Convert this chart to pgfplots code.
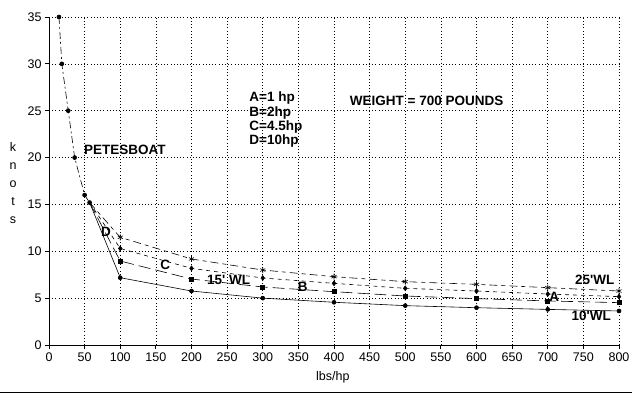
\documentclass[border=0pt]{standalone}
\usepackage{fontspec}
\setmainfont{Liberation Sans}
\usepackage{pgfplots}
\pgfplotsset{compat=1.18}
\begin{document}
\begin{tikzpicture}
\path[use as bounding box] (-49pt,-49pt) rectangle (583pt,345pt);
\begin{axis}[
 at={(0,0)}, anchor=south west,
 scale only axis, width=570pt, height=328pt,
 xmin=0, xmax=800, ymin=0, ymax=35,
 axis lines=left, axis line style={-, line width=0.8pt},
 xtick={0,50,...,800}, ytick={0,5,...,35},
 tick align=outside, major tick length=4pt,
 tick style={black, line width=0.8pt},
 grid=major, grid style={black, line width=0.7pt, dash pattern=on 0.8pt off 2.4pt},
 tick label style={font=\fontsize{12.5}{14}\selectfont},
 /pgf/number format/assume math mode=true,
 clip=false,
 every axis plot/.append style={black, line width=0.6pt},
]
\addplot[dash pattern=on 7pt off 3pt on 2pt off 3pt, mark=*, mark size=2pt, mark options={solid}] coordinates {
 (14,35) (18,30) (27,25) (36,20) (50,16) (57,15.2)};
\addplot[solid, mark=*, mark size=2pt, mark indices={2,3,4,5,6,7,8,9}] coordinates {
 (57,15.2) (100,7.18) (200,5.76) (300,5.0) (400,4.56) (500,4.2) (600,3.98) (700,3.8) (800,3.63)};
\addplot[dash pattern=on 12pt off 5pt, mark=square*, mark size=2pt, mark options={solid}, mark indices={2,3,4,5,6,7,8,9}] coordinates {
 (57,15.2) (100,8.96) (200,7.04) (300,6.19) (400,5.69) (500,5.23) (600,4.95) (700,4.7) (800,4.52)};
\addplot[dash pattern=on 4pt off 4pt, mark=diamond*, mark size=2.4pt, mark options={solid}, mark indices={2,3,4,5,6,7,8,9}] coordinates {
 (57,15.2) (100,10.3) (200,8.18) (300,7.15) (400,6.58) (500,6.05) (600,5.76) (700,5.44) (800,5.16)};
\addplot[dash pattern=on 8pt off 4pt on 4pt off 4pt, mark=asterisk, mark size=3pt, mark options={solid}, mark indices={2,3,4,5,6,7,8,9}] coordinates {
 (57,15.2) (100,11.49) (200,9.18) (300,8.0) (400,7.29) (500,6.76) (600,6.47) (700,6.12) (800,5.76)};
\begin{scope}[every node/.style={font=\bfseries\fontsize{13.5}{15}\selectfont, inner sep=0pt}]
\node[anchor=west] at (axis cs:49,20.8) {PETESBOAT};
\node[anchor=west] at (axis cs:281,26.4) {A=1 hp};
\node[anchor=west] at (axis cs:281,24.8) {B=2hp};
\node[anchor=west] at (axis cs:281,23.3) {C=4.5hp};
\node[anchor=west] at (axis cs:281,21.8) {D=10hp};
\node[anchor=west] at (axis cs:422,26.1) {WEIGHT = 700 POUNDS};
\node at (axis cs:80,12.06) {D};
\node at (axis cs:163,8.54) {C};
\node at (axis cs:252,6.94) {15\textquotesingle\ WL};
\node at (axis cs:356,6.19) {B};
\node at (axis cs:709,5.09) {A};
\node at (axis cs:766,7.0) {25\textquotesingle WL};
\node at (axis cs:761,3.09) {10\textquotesingle WL};
\end{scope}
\node[align=center, font=\fontsize{12.5}{18}\selectfont] at (axis description cs:-0.063,0.494) {k\\n\\o\\t\\s};
\node[font=\fontsize{12.5}{14}\selectfont] at (axis description cs:0.498,-0.098) {lbs/hp};
\end{axis}
\draw[line width=1.5pt] (-49pt,-47.5pt) -- (583pt,-47.5pt);
\end{tikzpicture}
\end{document}
